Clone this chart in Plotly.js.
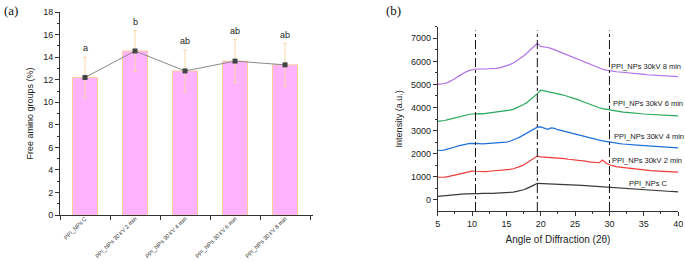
<!DOCTYPE html>
<html>
<head>
<meta charset="utf-8">
<script src="https://cdn.plot.ly/plotly-3.0.1.min.js"></script>
<style>html,body{margin:0;padding:0;background:#fff;}#chart{width:685px;height:262px;}</style>
</head>
<body>
<div id="chart"></div>
<script>
// ---- Panel (a): free amino groups ----
const sampleLabels = ["PPI_NPs C", "PPI_NPs 30 kV 2 min", "PPI_NPs 30 kV 4 min", "PPI_NPs 30 kV 6 min", "PPI_NPs 30 kV 8 min"];
const sampleIndex = [0, 1, 2, 3, 4];
const aminoValues = [12.2, 14.55, 12.78, 13.65, 13.32];
const aminoErrors = [1.8, 1.8, 1.85, 1.9, 1.9];
const sigLetters = ["a", "b", "ab", "ab", "ab"];

// ---- Panel (b): XRD ----
const angles = [5,5.5,6,6.5,7,7.5,8,8.5,9,9.5,10,10.5,11,11.5,12,12.5,13,13.5,14,14.5,15,15.5,16,16.5,17,17.5,18,18.5,19,19.5,20,20.5,21,21.5,22,22.5,23,23.5,24,24.5,25,25.5,26,26.5,27,27.5,28,28.5,29,29.5,30,30.5,31,31.5,32,32.5,33,33.5,34,34.5,35,35.5,36,36.5,37,37.5,38,38.5,39,39.5,40];
const xrdC = [150,160,170,180,200,215,230,250,265,275,280,285,275,280,270,285,280,290,295,300,305,320,340,370,400,440,500,560,640,720,715,705,710,700,700,690,685,680,670,665,650,640,630,620,610,600,580,570,560,550,530,520,505,495,480,470,460,450,440,430,420,410,405,400,390,385,380,375,365,360,350];
const xrd2 = [980,970,985,1010,1040,1070,1100,1140,1180,1220,1250,1240,1230,1220,1225,1240,1250,1260,1280,1290,1300,1320,1350,1390,1450,1510,1600,1700,1800,1900,1860,1850,1870,1840,1850,1820,1800,1790,1760,1750,1730,1720,1700,1680,1650,1640,1610,1610,1730,1600,1520,1470,1440,1420,1400,1380,1360,1340,1320,1310,1300,1280,1270,1260,1255,1250,1240,1230,1220,1210,1200];
const xrd4 = [2150,2140,2170,2200,2240,2290,2340,2380,2410,2440,2450,2460,2440,2430,2440,2430,2450,2460,2470,2490,2500,2540,2590,2660,2730,2810,2890,2990,3080,3150,3160,3120,3060,3120,3100,3040,3000,2960,2930,2890,2850,2810,2780,2740,2700,2660,2630,2590,2560,2530,2500,2480,2460,2440,2420,2400,2390,2380,2370,2360,2350,2330,2320,2310,2300,2290,2280,2270,2260,2255,2250];
const xrd6 = [3400,3410,3440,3480,3520,3560,3600,3640,3680,3700,3720,3740,3740,3730,3750,3760,3770,3790,3800,3830,3860,3890,3920,3980,4050,4130,4220,4340,4480,4600,4750,4720,4700,4680,4640,4600,4560,4520,4480,4430,4380,4330,4270,4210,4150,4090,4040,3990,3950,3920,3900,3870,3850,3830,3800,3790,3770,3760,3740,3730,3720,3710,3700,3690,3690,3680,3670,3660,3660,3650,3640];
const xrd8 = [5000,5010,5040,5090,5160,5250,5350,5450,5530,5600,5650,5670,5670,5660,5670,5680,5680,5700,5720,5760,5800,5860,5930,6020,6120,6230,6360,6500,6650,6780,6650,6640,6600,6560,6500,6450,6390,6320,6260,6200,6140,6080,6010,5950,5880,5820,5760,5700,5660,5620,5590,5570,5550,5540,5530,5510,5500,5480,5470,5450,5440,5420,5410,5400,5390,5380,5370,5360,5350,5350,5340];
const xrdNames = ["PPI_NPs C", "PPI_NPs 30kV 2 min", "PPI_NPs 30kV 4 min", "PPI_NPs 30kV 6 min", "PPI_NPs 30kV 8 min"];
const xrdLabelX = [32.6, 30.1, 30.3, 30.2, 30.0];
const xrdLabelY = [705, 1690, 2740, 4190, 5790];
const refAngles = [10.5, 19.5, 30];

const xrdSeries = [xrdC, xrd2, xrd4, xrd6, xrd8];
const xrdColors = ["#3a3a3a", "#f03a3a", "#1f6fd8", "#27a85a", "#b070e8"];

const font = "Liberation Sans, Arial, sans-serif";
const traces = [];

traces.push({
  type: "bar", x: sampleIndex, y: aminoValues, width: 0.5,
  marker: {color: "#ffb3ff", line: {color: "#f6cf9a", width: 1}},
  error_y: {type: "data", array: aminoErrors, visible: true, color: "#f7d8a6", thickness: 1, width: 2},
  xaxis: "x", yaxis: "y", hoverinfo: "skip", showlegend: false
});
traces.push({
  type: "scatter", mode: "lines+markers", x: sampleIndex, y: aminoValues,
  line: {color: "#8a8a8a", width: 1},
  marker: {symbol: "square", size: 5, color: "#444"},
  xaxis: "x", yaxis: "y", showlegend: false
});
xrdSeries.forEach((s, i) => {
  traces.push({
    type: "scatter", mode: "lines", x: angles, y: s,
    line: {color: xrdColors[i], width: 1.2},
    xaxis: "x2", yaxis: "y2", showlegend: false
  });
});

const annotations = [];
sigLetters.forEach((t, i) => {
  annotations.push({x: sampleIndex[i], y: aminoValues[i] + aminoErrors[i] + 0.15, xref: "x", yref: "y",
    text: t, showarrow: false, yanchor: "bottom", font: {family: font, size: 9, color: "#222"}});
});
xrdNames.forEach((t, i) => {
  annotations.push({x: xrdLabelX[i], y: xrdLabelY[i], xref: "x2", yref: "y2", text: t, showarrow: false,
    xanchor: "left", yanchor: "middle", font: {family: font, size: 7.5, color: "#222"}});
});
annotations.push({x: 0.003, y: 0.995, xref: "paper", yref: "paper", text: "(a)", showarrow: false,
  xanchor: "left", yanchor: "top", font: {family: "Liberation Serif, serif", size: 13, color: "#111"}});
annotations.push({x: 0.561, y: 0.995, xref: "paper", yref: "paper", text: "(b)", showarrow: false,
  xanchor: "left", yanchor: "top", font: {family: "Liberation Serif, serif", size: 13, color: "#111"}});

const shapes = refAngles.map(a => ({type: "line", xref: "x2", yref: "y2 domain", x0: a, x1: a, y0: 0, y1: 0.98,
  line: {color: "#111", width: 1, dash: "dashdot"}}));

const layout = {
  width: 685, height: 262,
  margin: {l: 0, r: 0, t: 0, b: 0},
  paper_bgcolor: "#fff", plot_bgcolor: "rgba(0,0,0,0)",
  font: {family: font, size: 9, color: "#222"},
  showlegend: false,
  xaxis: {domain: [0.0876, 0.457], range: [-0.5, 4.56], tickvals: sampleIndex, ticktext: sampleLabels,
    tickangle: -45, tickfont: {size: 5.8, color: "#333"}, ticks: "", showgrid: false, zeroline: false,
    showline: true, linecolor: "#333", linewidth: 1, ticklabelstandoff: -3,
    minor: {tick0: -0.5, dtick: 1, ticks: "outside", ticklen: 4, tickcolor: "#333", showgrid: false}},
  yaxis: {domain: [0.179, 0.954], range: [0, 18], dtick: 2, ticks: "outside", ticklen: 4, tickcolor: "#333",
    showgrid: false, zeroline: false, showline: true, linecolor: "#333", linewidth: 1,
    tickfont: {size: 9, color: "#222"},
    minor: {dtick: 1, ticks: "outside", ticklen: 2, tickcolor: "#333", showgrid: false},
    title: {text: "Free amino groups (%)", font: {size: 9, color: "#222"}, standoff: 8}},
  xaxis2: {domain: [0.639, 0.990], range: [5, 40], dtick: 5, ticks: "outside", ticklen: 4, tickcolor: "#333",
    showgrid: false, zeroline: false, showline: true, linecolor: "#333", linewidth: 1, anchor: "y2",
    tickfont: {size: 9, color: "#222"},
    minor: {dtick: 2.5, ticks: "outside", ticklen: 2, tickcolor: "#333", showgrid: false},
    title: {text: "Angle of Diffraction (2θ)", font: {size: 10, color: "#222"}, standoff: 8}},
  yaxis2: {domain: [0.1947, 0.898], range: [-480, 7500], dtick: 1000, ticks: "outside", ticklen: 4, tickcolor: "#333",
    showgrid: false, zeroline: false, showline: true, linecolor: "#333", linewidth: 1, anchor: "x2",
    tickfont: {size: 9, color: "#222"},
    minor: {dtick: 500, ticks: "outside", ticklen: 2, tickcolor: "#333", showgrid: false},
    title: {text: "Intensity (a.u.)", font: {size: 9, color: "#222"}, standoff: 6}},
  annotations: annotations,
  shapes: shapes
};

Plotly.newPlot("chart", traces, layout, {staticPlot: true, displayModeBar: false});
</script>
</body>
</html>
